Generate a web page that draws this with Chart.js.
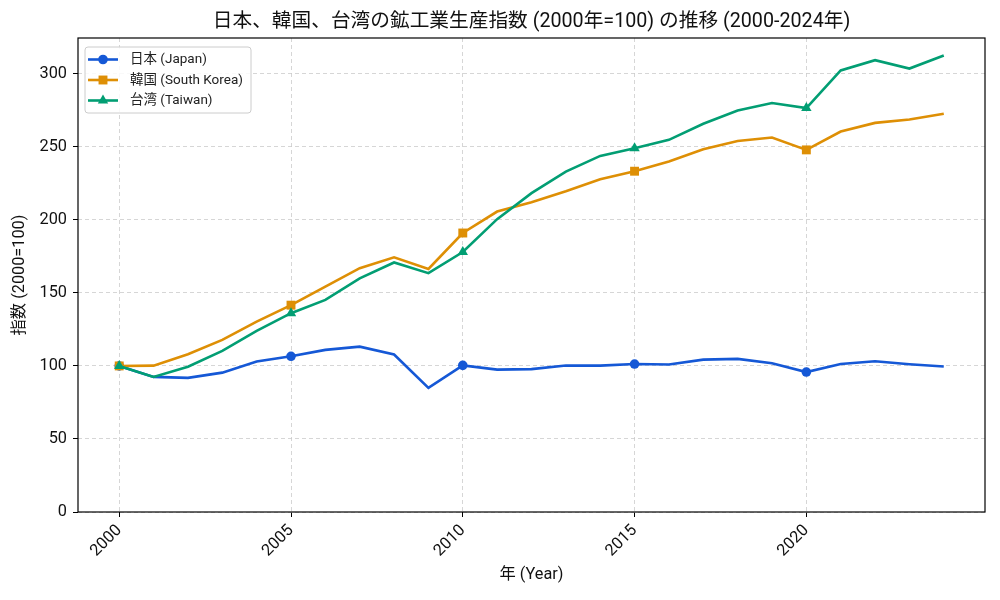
<!DOCTYPE html>
<html>
<head>
<meta charset="utf-8">
<script src="https://cdn.jsdelivr.net/npm/chart.js@4"></script>
<style>
html,body{margin:0;padding:0;background:#fff;}
#wrap{width:1000px;height:600px;}
</style>
</head>
<body>
<div id="wrap"><canvas id="c" width="1000" height="600"></canvas></div>
<script>
const years = [2000,2001,2002,2003,2004,2005,2006,2007,2008,2009,2010,2011,2012,2013,2014,2015,2016,2017,2018,2019,2020,2021,2022,2023,2024];
const japan = [100,92.5,91.8,95.4,103,106.6,111,113.2,107.8,85,100.4,97.5,97.8,100.3,100.2,101.3,101,104.3,104.8,101.8,95.8,101.3,103.2,101.2,99.6];
const korea = [100,100.2,108,117.8,130.3,141.6,154.3,166.9,174.4,166.4,191,205.7,212.1,219.6,227.8,233.3,240,248.4,254,256.4,247.9,260.5,266.4,268.7,272.6];
const taiwan = [100,92.5,99.5,110.3,124,136.1,145.2,160,170.8,163.5,178,200.5,218.3,233,243.8,249,254.8,265.8,274.9,280,276.5,302.3,309.3,303.6,312.5];
const xTicks = [2000,2005,2010,2015,2020];
const yTicks = [0,50,100,150,200,250,300];
const seriesLabels = ['日本 (Japan)','韓国 (South Korea)','台湾 (Taiwan)'];
const seriesColors = ['#1558D6','#DE8F05','#029E73'];
const seriesMarkers = ['circle','rect','triangle'];
const titleText = '日本、韓国、台湾の鉱工業生産指数 (2000年=100) の推移 (2000-2024年)';
const xTitle = '年 (Year)';
const yTitle = '指数 (2000=100)';

const FONT = 'Roboto, "Noto Sans CJK JP", sans-serif';
const seriesValues = [japan, korea, taiwan];

function markerRadius(style){ return style==='rect' ? 6.3 : (style==='triangle' ? 6 : 4.8); }

const datasets = seriesValues.map((vals,i)=>({
  label: seriesLabels[i],
  data: years.map((y,j)=>({x:y, y:vals[j]})),
  order: seriesValues.length - i,
  borderColor: seriesColors[i],
  backgroundColor: seriesColors[i],
  borderWidth: 2.6,
  pointStyle: seriesMarkers[i],
  pointRadius: (ctx)=> ctx.dataIndex % 5 === 0 ? markerRadius(seriesMarkers[i]) : 0,
  pointHoverRadius: 0,
  pointBorderWidth: 0,
  tension: 0,
  fill: false
}));

const decor = {
  id:'decor',
  afterDatasetsDraw(chart){
    const {ctx, chartArea:a} = chart;
    ctx.save();
    // frame
    ctx.strokeStyle='#000'; ctx.lineWidth=1.2;
    ctx.strokeRect(a.left, a.top, a.right-a.left, a.bottom-a.top);
    // legend
    const bx=85, by=47, bw=166, bh=66;
    ctx.fillStyle='rgba(255,255,255,0.85)';
    ctx.strokeStyle='#cccccc'; ctx.lineWidth=1;
    ctx.beginPath();
    if (ctx.roundRect) ctx.roundRect(bx,by,bw,bh,3); else ctx.rect(bx,by,bw,bh);
    ctx.fill(); ctx.stroke();
    ctx.font = '13.5px ' + FONT;
    ctx.textBaseline='middle'; ctx.textAlign='left';
    seriesLabels.forEach((lab,i)=>{
      const yy = by + 12.5 + i*20.5;
      ctx.strokeStyle=seriesColors[i]; ctx.lineWidth=2.6;
      ctx.beginPath(); ctx.moveTo(88,yy); ctx.lineTo(118,yy); ctx.stroke();
      ctx.fillStyle=seriesColors[i];
      Chart.helpers.drawPoint(ctx,{pointStyle:seriesMarkers[i], radius:markerRadius(seriesMarkers[i]), rotation:0, borderWidth:0}, 103, yy);
      ctx.fillStyle='#222';
      ctx.fillText(lab, 130, yy+0.5);
    });
    // titles
    ctx.fillStyle='#111';
    ctx.textAlign='center';
    ctx.font = '19.7px ' + FONT;
    ctx.fillText(titleText, (a.left+a.right)/2, 22);
    ctx.font = '16.3px ' + FONT;
    ctx.fillText(xTitle, (a.left+a.right)/2, 575);
    ctx.translate(20, (a.top+a.bottom)/2);
    ctx.rotate(-Math.PI/2);
    ctx.fillText(yTitle, 0, 0);
    ctx.restore();
  }
};

new Chart(document.getElementById('c'), {
  type:'line',
  data:{datasets},
  options:{
    responsive:false,
    devicePixelRatio:1,
    animation:false,
    layout:{padding:{top:38,right:15,left:0,bottom:0}},
    plugins:{legend:{display:false}, tooltip:{enabled:false}, title:{display:false}},
    scales:{
      x:{
        type:'linear', min:1998.8, max:2025.2,
        afterFit(s){ s.height = 88; },
        afterBuildTicks(s){ s.ticks = xTicks.map(v=>({value:v})); },
        ticks:{ color:'#111', font:{family:FONT, size:16.3}, minRotation:45, maxRotation:45, padding:4,
          callback:(v)=>String(v) },
        grid:{ color:'#cccccc', lineWidth:0.8, drawTicks:true, tickLength:5, tickColor:'#000', tickWidth:1, tickBorderDash:[] },
        border:{ display:false, dash:[4,3] }
      },
      y:{
        type:'linear', min:0, max:324.5,
        afterFit(s){ s.width = 78; },
        afterBuildTicks(s){ s.ticks = yTicks.map(v=>({value:v})); },
        ticks:{ color:'#111', font:{family:FONT, size:16.3}, padding:6, callback:(v)=>String(v) },
        grid:{ color:'#cccccc', lineWidth:0.8, drawTicks:true, tickLength:5, tickColor:'#000', tickWidth:1, tickBorderDash:[] },
        border:{ display:false, dash:[4,3] }
      }
    }
  },
  plugins:[decor]
});
</script>
</body>
</html>
